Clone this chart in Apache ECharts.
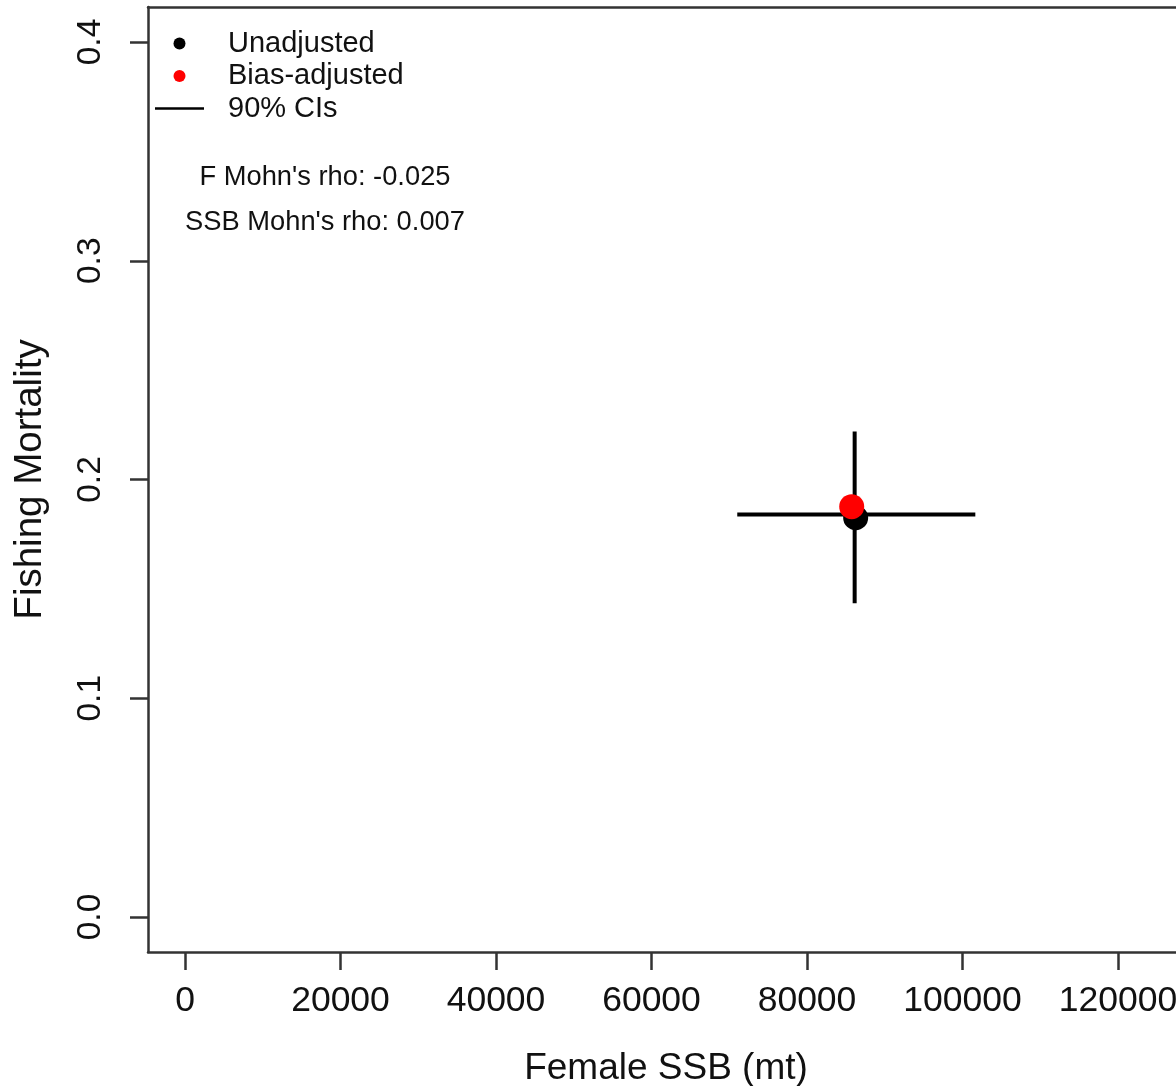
<!DOCTYPE html>
<html>
<head>
<meta charset="utf-8">
<script src="https://cdn.jsdelivr.net/npm/echarts@6/dist/echarts.min.js"></script>
<style>
html,body{margin:0;padding:0;background:#fff;}
#chart{width:1176px;height:1086px;}
</style>
</head>
<body>
<div id="chart"></div>
<script>
// ---- data ----
const legendNames = ['Unadjusted', 'Bias-adjusted', '90% CIs'];
const unadjSSB = [86260];
const unadjF = [0.1825];
const adjSSB = [85750];
const adjF = [0.1876];
const ciSSBRange = [71030, 101650];   // horizontal CI (SSB)
const ciSSBAtF = 0.1840;
const ciFRange = [0.1434, 0.2219];    // vertical CI (F)
const ciFAtSSB = 86130;
const xTicks = [0, 20000, 40000, 60000, 80000, 100000, 120000];
const yTicks = [0.0, 0.1, 0.2, 0.3, 0.4];
const rhoTexts = ["F Mohn's rho: -0.025", "SSB Mohn's rho: 0.007"];

const FONT = "'Liberation Sans', Arial, sans-serif";
const AXIS_COLOR = '#333';
const TEXT_COLOR = '#111';
const chart = echarts.init(document.getElementById('chart'), null, {renderer: 'canvas'});

const option = {
  animation: false,
  backgroundColor: '#ffffff',
  grid: {left: 148, top: 7, right: 0, height: 945, show: false, containLabel: false, outerBoundsMode: 'none'},
  xAxis: [{
    type: 'value', min: -4759, max: 127460, position: 'bottom',
    name: 'Female SSB (mt)', nameLocation: 'middle', nameGap: 98,
    nameTextStyle: {fontFamily: FONT, fontSize: 37, color: TEXT_COLOR, padding: [0, 0, 0, 8]},
    axisLine: {show: true, onZero: false, lineStyle: {color: AXIS_COLOR, width: 2.5}},
    axisTick: {show: true, length: 18, inside: false, customValues: xTicks,
      lineStyle: {color: AXIS_COLOR, width: 2.5}},
    axisLabel: {customValues: xTicks, margin: 31, fontFamily: FONT, fontSize: 35.5, color: TEXT_COLOR,
      formatter: v => String(v)},
    splitLine: {show: false}
  }, {
    type: 'value', min: -4759, max: 127460, position: 'top',
    axisLine: {show: true, onZero: false, lineStyle: {color: AXIS_COLOR, width: 2.5}},
    axisTick: {show: false}, axisLabel: {show: false}, splitLine: {show: false}
  }],
  yAxis: {
    type: 'value', min: -0.016, max: 0.416,
    name: 'Fishing Mortality', nameLocation: 'middle', nameGap: 98,
    nameTextStyle: {fontFamily: FONT, fontSize: 38.5, color: TEXT_COLOR},
    axisLine: {show: true, onZero: false, lineStyle: {color: AXIS_COLOR, width: 2.5}},
    axisTick: {show: true, length: 18, inside: false, customValues: yTicks,
      lineStyle: {color: AXIS_COLOR, width: 2.5}},
    axisLabel: {customValues: yTicks, rotate: 90, margin: 40, fontFamily: FONT, fontSize: 33.5, color: TEXT_COLOR,
      formatter: v => v.toFixed(1)},
    splitLine: {show: false}
  },
  legend: {
    orient: 'vertical', left: 155, top: 29, padding: 0, itemWidth: 49, itemHeight: 12, itemGap: 3.5,
    selectedMode: false, symbolKeepAspect: true,
    textStyle: {fontFamily: FONT, fontSize: 29, color: TEXT_COLOR, lineHeight: 29, padding: [0, 0, 0, 19]},
    data: [
      {name: legendNames[0], icon: 'circle'},
      {name: legendNames[1], icon: 'circle'},
      {name: legendNames[2], icon: 'path://M0,0L49,0L49,2.5L0,2.5Z', itemStyle: {color: '#000'}}
    ]
  },
  graphic: rhoTexts.map((t, i) => ({
    type: 'text', x: 325, y: i === 0 ? 177 : 222,
    style: {text: t, fontFamily: FONT, fontSize: 27.3, fill: TEXT_COLOR, align: 'center', verticalAlign: 'middle'}
  })),
  series: [
    {
      name: legendNames[2], type: 'line', symbol: 'none', showSymbol: false, z: 2,
      lineStyle: {color: '#000', width: 4, cap: 'butt'},
      itemStyle: {color: '#000'},
      data: [[ciSSBRange[0], ciSSBAtF], [ciSSBRange[1], ciSSBAtF]]
    },
    {
      name: legendNames[2], type: 'line', symbol: 'none', showSymbol: false, z: 2,
      lineStyle: {color: '#000', width: 4, cap: 'butt'},
      itemStyle: {color: '#000'},
      data: [[ciFAtSSB, ciFRange[0]], [ciFAtSSB, ciFRange[1]]]
    },
    {
      name: legendNames[0], type: 'scatter', symbol: 'circle', symbolSize: 25, z: 3,
      itemStyle: {color: '#000', opacity: 1},
      data: unadjSSB.map((x, i) => [x, unadjF[i]])
    },
    {
      name: legendNames[1], type: 'scatter', symbol: 'circle', symbolSize: 25, z: 4,
      itemStyle: {color: '#ff0000', opacity: 1},
      data: adjSSB.map((x, i) => [x, adjF[i]])
    }
  ]
};
chart.setOption(option);
</script>
</body>
</html>
